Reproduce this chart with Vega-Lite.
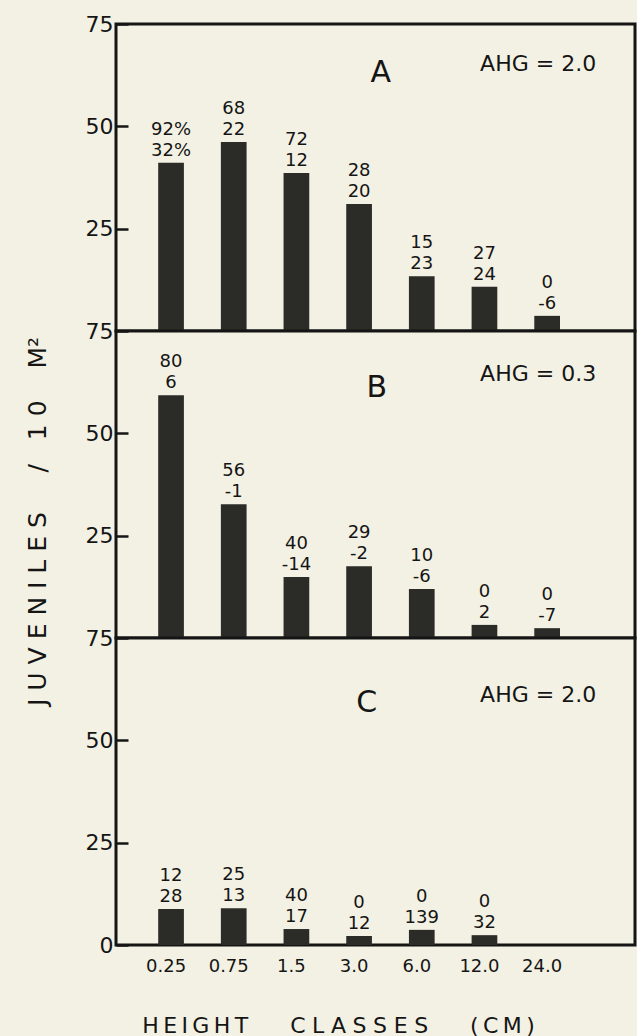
{
  "$schema": "https://vega.github.io/schema/vega-lite/v6.json",
  "background": "#f3f1e3",
  "padding": {"left": 23, "top": 11, "right": 0, "bottom": 0},
  "autosize": {"type": "pad"},
  "bounds": "flush",
  "config": {
    "font": "DejaVu Sans",
    "view": {"stroke": "#151515", "strokeWidth": 3, "fill": "#f3f1e3"},
    "axis": {"domain": false, "grid": false, "labelFont": "DejaVu Sans", "labelColor": "#151515", "tickColor": "#151515", "titleColor": "#151515", "titleFontWeight": "normal", "titleFont": "DejaVu Sans"},
    "axisY": {"tickSize": -12, "tickWidth": 2.5, "labelPadding": 15, "labelFontSize": 22},
    "text": {"color": "#151515", "font": "DejaVu Sans"},
    "concat": {"spacing": 0}
  },
  "datasets": {
    "bars": [
      {"panel": "A", "cls": "0.25", "v": 41.1, "hi": "92%", "lo": "32%"},
      {"panel": "A", "cls": "0.75", "v": 46.2, "hi": "68", "lo": "22"},
      {"panel": "A", "cls": "1.5", "v": 38.6, "hi": "72", "lo": "12"},
      {"panel": "A", "cls": "3.0", "v": 31, "hi": "28", "lo": "20"},
      {"panel": "A", "cls": "6.0", "v": 13.4, "hi": "15", "lo": "23"},
      {"panel": "A", "cls": "12.0", "v": 10.8, "hi": "27", "lo": "24"},
      {"panel": "A", "cls": "24.0", "v": 3.7, "hi": "0", "lo": "-6"},
      {"panel": "B", "cls": "0.25", "v": 59.3, "hi": "80", "lo": "6"},
      {"panel": "B", "cls": "0.75", "v": 32.7, "hi": "56", "lo": "-1"},
      {"panel": "B", "cls": "1.5", "v": 14.9, "hi": "40", "lo": "-14"},
      {"panel": "B", "cls": "3.0", "v": 17.5, "hi": "29", "lo": "-2"},
      {"panel": "B", "cls": "6.0", "v": 12, "hi": "10", "lo": "-6"},
      {"panel": "B", "cls": "12.0", "v": 3.2, "hi": "0", "lo": "2"},
      {"panel": "B", "cls": "24.0", "v": 2.4, "hi": "0", "lo": "-7"},
      {"panel": "C", "cls": "0.25", "v": 8.8, "hi": "12", "lo": "28"},
      {"panel": "C", "cls": "0.75", "v": 9, "hi": "25", "lo": "13"},
      {"panel": "C", "cls": "1.5", "v": 3.9, "hi": "40", "lo": "17"},
      {"panel": "C", "cls": "3.0", "v": 2.2, "hi": "0", "lo": "12"},
      {"panel": "C", "cls": "6.0", "v": 3.7, "hi": "0", "lo": "139"},
      {"panel": "C", "cls": "12.0", "v": 2.4, "hi": "0", "lo": "32"}
    ],
    "notes": [
      {"panel": "A", "big": "A", "ahg": "AHG = 2.0"},
      {"panel": "B", "big": "B", "ahg": "AHG = 0.3"},
      {"panel": "C", "big": "C", "ahg": "AHG = 2.0"}
    ]
  },
  "vconcat": [
    {
      "width": 519, "height": 307,
      "layer": [
        {"data": {"name": "bars"}, "transform": [{"filter": "datum.panel === 'A'"}], "mark": {"type": "bar", "color": "#2b2b28"},
         "encoding": {
          "x": {"field": "cls", "type": "ordinal", "scale": {"domain": ["0.25", "0.75", "1.5", "3.0", "6.0", "12.0", "24.0"], "paddingInner": 0.59, "paddingOuter": 0.935, "align": 0.36}, "axis": null},
          "y": {"field": "v", "type": "quantitative", "scale": {"domain": [0, 75], "nice": false}, "axis": {"values": [25, 50, 75], "title": null}}}},
        {"data": {"name": "bars"}, "transform": [{"filter": "datum.panel === 'A'"}], "mark": {"type": "text", "baseline": "alphabetic", "dy": -7, "fontSize": 18},
         "encoding": {"x": {"field": "cls", "type": "ordinal"}, "y": {"field": "v", "type": "quantitative"}, "text": {"field": "lo"}}},
        {"data": {"name": "bars"}, "transform": [{"filter": "datum.panel === 'A'"}], "mark": {"type": "text", "baseline": "alphabetic", "dy": -28, "fontSize": 18},
         "encoding": {"x": {"field": "cls", "type": "ordinal"}, "y": {"field": "v", "type": "quantitative"}, "text": {"field": "hi"}}},
        {"data": {"name": "notes"}, "transform": [{"filter": "datum.panel === 'A'"}], "mark": {"type": "text", "baseline": "middle", "fontSize": 30, "dx": -41},
         "encoding": {"x": {"datum": "6.0"}, "y": {"datum": 63}, "text": {"field": "big"}}},
        {"data": {"name": "notes"}, "transform": [{"filter": "datum.panel === 'A'"}], "mark": {"type": "text", "baseline": "middle", "fontSize": 22, "dx": -9},
         "encoding": {"x": {"datum": "24.0"}, "y": {"datum": 65.3}, "text": {"field": "ahg"}}}
      ]
    },
    {
      "width": 519, "height": 307,
      "layer": [
        {"data": {"name": "bars"}, "transform": [{"filter": "datum.panel === 'B'"}], "mark": {"type": "bar", "color": "#2b2b28"},
         "encoding": {
          "x": {"field": "cls", "type": "ordinal", "scale": {"domain": ["0.25", "0.75", "1.5", "3.0", "6.0", "12.0", "24.0"], "paddingInner": 0.59, "paddingOuter": 0.935, "align": 0.36}, "axis": null},
          "y": {"field": "v", "type": "quantitative", "scale": {"domain": [0, 75], "nice": false}, "axis": {"values": [25, 50, 75], "title": "J\u00a0U\u00a0V\u00a0E\u00a0N\u00a0I\u00a0L\u00a0E\u00a0S\u00a0\u00a0\u00a0\u00a0\u00a0/\u00a0\u00a0\u00a01\u00a00\u00a0\u00a0\u00a0\u00a0M²", "titleFontSize": 25, "titleAngle": 270, "titleBaseline": "alphabetic", "titleAlign": "center", "titleX": -71, "titleY": 190}}}},
        {"data": {"name": "bars"}, "transform": [{"filter": "datum.panel === 'B'"}], "mark": {"type": "text", "baseline": "alphabetic", "dy": -7, "fontSize": 18},
         "encoding": {"x": {"field": "cls", "type": "ordinal"}, "y": {"field": "v", "type": "quantitative"}, "text": {"field": "lo"}}},
        {"data": {"name": "bars"}, "transform": [{"filter": "datum.panel === 'B'"}], "mark": {"type": "text", "baseline": "alphabetic", "dy": -28, "fontSize": 18},
         "encoding": {"x": {"field": "cls", "type": "ordinal"}, "y": {"field": "v", "type": "quantitative"}, "text": {"field": "hi"}}},
        {"data": {"name": "notes"}, "transform": [{"filter": "datum.panel === 'B'"}], "mark": {"type": "text", "baseline": "middle", "fontSize": 30, "dx": -45},
         "encoding": {"x": {"datum": "6.0"}, "y": {"datum": 61}, "text": {"field": "big"}}},
        {"data": {"name": "notes"}, "transform": [{"filter": "datum.panel === 'B'"}], "mark": {"type": "text", "baseline": "middle", "fontSize": 22, "dx": -9},
         "encoding": {"x": {"datum": "24.0"}, "y": {"datum": 64.5}, "text": {"field": "ahg"}}}
      ]
    },
    {
      "width": 519, "height": 307,
      "layer": [
        {"data": {"name": "bars"}, "transform": [{"filter": "datum.panel === 'C'"}], "mark": {"type": "bar", "color": "#2b2b28"},
         "encoding": {
          "x": {"field": "cls", "type": "ordinal", "scale": {"domain": ["0.25", "0.75", "1.5", "3.0", "6.0", "12.0", "24.0"], "paddingInner": 0.59, "paddingOuter": 0.935, "align": 0.36}, "axis": {"ticks": false, "labelPadding": 12, "labelFontSize": 18, "labelAngle": 0, "labelOffset": -5, "title": "H\u2009E\u2009I\u2009G\u2009H\u2009T\u00a0\u00a0\u00a0\u00a0\u00a0\u00a0C\u2009\u200aL\u2009\u200aA\u2009\u200aS\u2009\u200aS\u2009\u200aE\u2009\u200aS\u00a0\u00a0\u00a0\u00a0\u00a0\u00a0(\u2009C\u2009M\u2009)", "titleFontSize": 22, "titleBaseline": "alphabetic", "titleX": 222, "titleY": 87}},
          "y": {"field": "v", "type": "quantitative", "scale": {"domain": [0, 75], "nice": false}, "axis": {"values": [0, 25, 50, 75], "title": null}}}},
        {"data": {"name": "bars"}, "transform": [{"filter": "datum.panel === 'C'"}], "mark": {"type": "text", "baseline": "alphabetic", "dy": -7, "fontSize": 18},
         "encoding": {"x": {"field": "cls", "type": "ordinal"}, "y": {"field": "v", "type": "quantitative"}, "text": {"field": "lo"}}},
        {"data": {"name": "bars"}, "transform": [{"filter": "datum.panel === 'C'"}], "mark": {"type": "text", "baseline": "alphabetic", "dy": -28, "fontSize": 18},
         "encoding": {"x": {"field": "cls", "type": "ordinal"}, "y": {"field": "v", "type": "quantitative"}, "text": {"field": "hi"}}},
        {"data": {"name": "notes"}, "transform": [{"filter": "datum.panel === 'C'"}], "mark": {"type": "text", "baseline": "middle", "fontSize": 30, "dx": -55},
         "encoding": {"x": {"datum": "6.0"}, "y": {"datum": 59}, "text": {"field": "big"}}},
        {"data": {"name": "notes"}, "transform": [{"filter": "datum.panel === 'C'"}], "mark": {"type": "text", "baseline": "middle", "fontSize": 22, "dx": -9},
         "encoding": {"x": {"datum": "24.0"}, "y": {"datum": 61}, "text": {"field": "ahg"}}}
      ]
    }
  ]
}
